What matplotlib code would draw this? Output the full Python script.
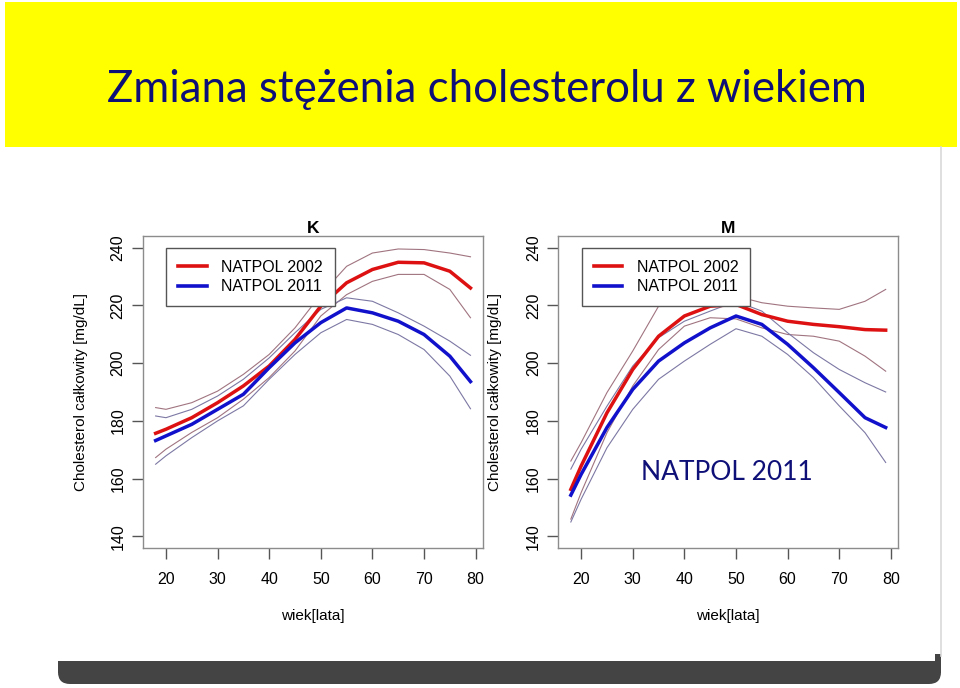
import matplotlib.pyplot as plt
from matplotlib.patches import Rectangle, FancyBboxPatch

ages = [18, 20, 25, 30, 35, 40, 45, 50, 55, 60, 65, 70, 75, 79]

# K (women)
k_2002 = [175.7, 177.1, 181.1, 186.3, 192.1, 199.0, 208.2, 219.7, 227.8, 232.4, 234.9, 234.7, 231.8, 226.0]
k_2002_hi = [184.6, 184.0, 186.3, 190.3, 196.1, 203.0, 212.2, 223.7, 233.5, 238.1, 239.5, 239.3, 238.1, 236.8]
k_2002_lo = [167.3, 170.2, 176.0, 181.1, 187.5, 195.0, 204.2, 216.3, 223.7, 228.3, 230.7, 230.7, 225.5, 215.7]
k_2011 = [173.2, 174.8, 178.8, 184.0, 189.2, 198.4, 207.0, 214.0, 219.1, 217.4, 214.5, 209.9, 202.4, 193.6]
k_2011_hi = [181.7, 181.1, 184.0, 188.6, 194.4, 201.8, 210.5, 218.6, 222.6, 221.4, 217.4, 212.8, 207.6, 202.7]
k_2011_lo = [165.0, 167.9, 174.2, 180.0, 185.2, 194.4, 203.0, 210.5, 215.1, 213.4, 209.9, 204.7, 195.5, 184.2]

# M (men)
m_2002 = [156.3, 164.4, 182.8, 197.8, 209.3, 216.3, 219.7, 220.3, 216.8, 214.5, 213.4, 212.6, 211.6, 211.4]
m_2002_hi = [166.1, 172.5, 189.8, 204.2, 219.7, 223.7, 225.5, 223.2, 220.9, 219.7, 219.1, 218.6, 221.4, 225.5]
m_2002_lo = [146.0, 155.2, 175.9, 192.1, 204.7, 212.8, 215.7, 215.3, 212.2, 209.9, 209.3, 207.6, 202.4, 197.2]
m_2011 = [154.3, 161.5, 177.7, 190.9, 200.7, 207.0, 212.2, 216.3, 213.4, 206.5, 198.4, 189.8, 181.1, 177.7]
m_2011_hi = [163.3, 170.2, 185.1, 199.0, 208.8, 214.5, 218.0, 221.4, 218.0, 210.5, 203.6, 197.8, 193.2, 190.0]
m_2011_lo = [145.0, 152.9, 170.7, 184.0, 194.4, 200.7, 206.5, 211.9, 209.3, 203.0, 195.0, 185.2, 175.9, 165.6]

series_labels = ["NATPOL 2002", "NATPOL 2011"]
y_ticks = [140, 160, 180, 200, 220, 240]
x_ticks = [20, 30, 40, 50, 60, 70, 80]

RED = "#dd1111"
BLUE = "#1111cc"
RED_BAND = "#a07480"
BLUE_BAND = "#7c78a4"
NAVY = "#0f0f78"
RFONT = "Liberation Sans"

fig = plt.figure(figsize=(9.6, 6.88), dpi=100)

# slide decoration in pixel coordinates
bg = fig.add_axes([0, 0, 1, 1], zorder=0)
bg.set_xlim(0, 960)
bg.set_ylim(688, 0)
bg.axis("off")
bg.add_patch(Rectangle((5, 2), 952, 145, facecolor="#ffff00", edgecolor="none"))
bg.plot([941, 941], [147, 656], color="#d9d9d9", linewidth=1.2)
bg.add_patch(FancyBboxPatch((58, 661), 883, 23, boxstyle="round,pad=0,rounding_size=12",
                            facecolor="#444444", edgecolor="none"))
bg.add_patch(Rectangle((58, 661), 883, 12, facecolor="#444444", edgecolor="none"))
bg.add_patch(Rectangle((935, 654), 6, 8, facecolor="#444444", edgecolor="none"))
bg.text(487, 90, "Zmiana stężenia cholesterolu z wiekiem", fontsize=31.5, family="Lato",
        color=NAVY, ha="center", va="center")

panels = [
    ("K", [0.1490, 0.2035, 0.3542, 0.4535], -0.162,
     (k_2002, k_2002_hi, k_2002_lo), (k_2011, k_2011_hi, k_2011_lo)),
    ("M", [0.5815, 0.2035, 0.3542, 0.4535], -0.165,
     (m_2002, m_2002_hi, m_2002_lo), (m_2011, m_2011_hi, m_2011_lo)),
]

for title, rect, ylab_x, s02, s11 in panels:
    ax = fig.add_axes(rect, zorder=2)
    for vals, col in ((s02, RED_BAND), (s11, BLUE_BAND)):
        ax.plot(ages, vals[1], color=col, linewidth=0.8)
        ax.plot(ages, vals[2], color=col, linewidth=0.8)
    ax.plot(ages, s02[0], color=RED, linewidth=2.5, label=series_labels[0])
    ax.plot(ages, s11[0], color=BLUE, linewidth=2.5, label=series_labels[1])

    ax.set_xlim(15.56, 81.44)
    ax.set_ylim(136, 244)
    ax.set_xticks(x_ticks)
    ax.set_yticks(y_ticks)
    for sp in ax.spines.values():
        sp.set_color("#8c8c8c")
        sp.set_linewidth(1.0)
    ax.tick_params(axis="x", direction="out", length=8, width=1, color="#555555",
                   labelsize=11.5, pad=9)
    ax.tick_params(axis="y", direction="out", length=8, width=1, color="#555555",
                   labelsize=11.5, pad=4.5, labelrotation=90)
    for lab in ax.get_yticklabels():
        lab.set_va("center")
    ax.set_title(title, fontsize=12.5, fontweight="bold", pad=2, family=RFONT)
    ax.set_ylabel("Cholesterol całkowity [mg/dL]", fontsize=11, family=RFONT)
    ax.yaxis.set_label_coords(ylab_x, 0.5)
    ax.set_xlabel("wiek[lata]", fontsize=11, family=RFONT)
    ax.xaxis.set_label_coords(0.5, -0.196)
    for t in ax.get_xticklabels() + ax.get_yticklabels():
        t.set_family(RFONT)

    leg = ax.legend(loc="upper left", bbox_to_anchor=(0.0685, 0.9625), fancybox=False,
                    edgecolor="#555555", framealpha=1, borderaxespad=0,
                    prop={"family": RFONT, "size": 11.5},
                    handlelength=1.8, handletextpad=0.9, labelspacing=0.3,
                    borderpad=0.75)
    leg.get_frame().set_linewidth(1.0)
    for h in leg.get_lines():
        h.set_linewidth(2.6)

    if title == "M":
        ax.text(0.497, 0.241, "NATPOL 2011", transform=ax.transAxes, fontsize=19,
                family="Lato", color=NAVY, ha="center", va="center")

fig.savefig("out.png", dpi=100)
